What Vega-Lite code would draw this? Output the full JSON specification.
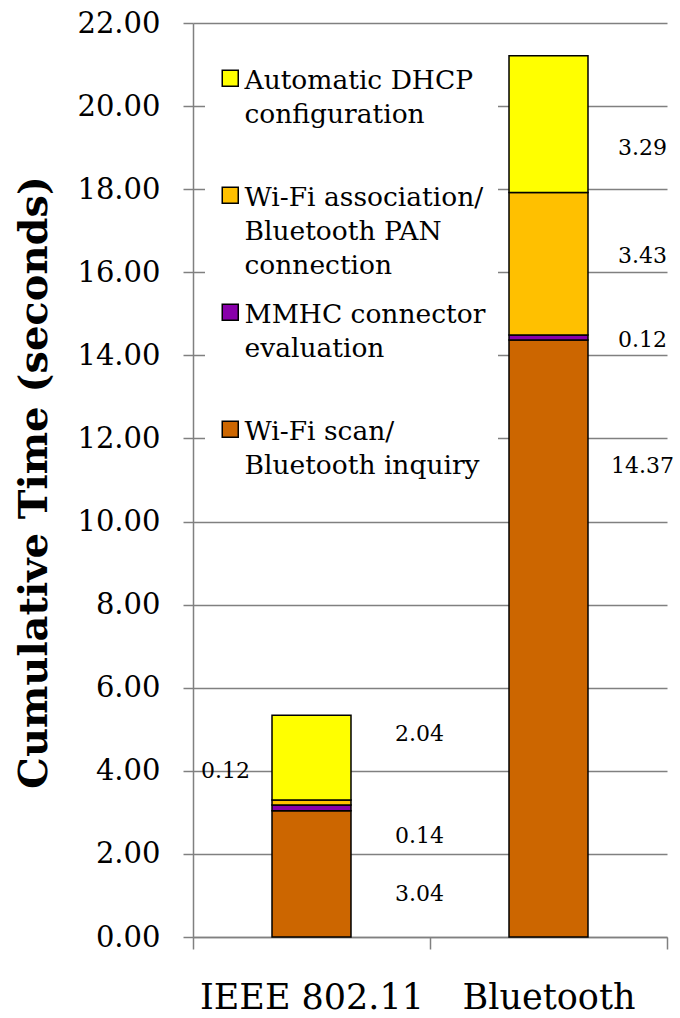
{
  "$schema": "https://vega.github.io/schema/vega-lite/v6.json",
  "width": 474,
  "height": 914,
  "autosize": "none",
  "padding": {"left": 193, "top": 23, "right": 13, "bottom": 81},
  "background": "white",
  "config": {"view": {"stroke": null}, "font": "DejaVu Serif"},
  "data": {
    "values": [
      {"system": "IEEE 802.11", "phase": "Wi-Fi scan/Bluetooth inquiry", "seconds": 3.04, "order": 1, "labelAt": 1.03, "side": "right"},
      {"system": "IEEE 802.11", "phase": "MMHC connector evaluation", "seconds": 0.14, "order": 2, "labelAt": 2.43, "side": "right"},
      {"system": "IEEE 802.11", "phase": "Wi-Fi association/Bluetooth PAN connection", "seconds": 0.12, "order": 3, "labelAt": 4.0, "side": "left"},
      {"system": "IEEE 802.11", "phase": "Automatic DHCP configuration", "seconds": 2.04, "order": 4, "labelAt": 4.88, "side": "right"},
      {"system": "Bluetooth", "phase": "Wi-Fi scan/Bluetooth inquiry", "seconds": 14.37, "order": 1, "labelAt": 11.33, "side": "right"},
      {"system": "Bluetooth", "phase": "MMHC connector evaluation", "seconds": 0.12, "order": 2, "labelAt": 14.37, "side": "right"},
      {"system": "Bluetooth", "phase": "Wi-Fi association/Bluetooth PAN connection", "seconds": 3.43, "order": 3, "labelAt": 16.4, "side": "right"},
      {"system": "Bluetooth", "phase": "Automatic DHCP configuration", "seconds": 3.29, "order": 4, "labelAt": 18.98, "side": "right"}
    ]
  },
  "encoding": {
    "x": {
      "field": "system",
      "type": "nominal",
      "sort": ["IEEE 802.11", "Bluetooth"],
      "scale": {"paddingInner": 0, "paddingOuter": 0},
      "axis": {
        "title": null,
        "labelAngle": 0,
        "labelFont": "DejaVu Serif",
        "labelFontSize": 35,
        "labelColor": "black",
        "labelLimit": 400,
        "labelPadding": 31,
        "tickBand": "extent",
        "tickSize": 12,
        "tickColor": "#808080",
        "tickWidth": 1.5,
        "domainColor": "#808080",
        "domainWidth": 1.5,
        "grid": false
      }
    }
  },
  "layer": [
    {
      "mark": {"type": "bar", "stroke": "black", "strokeWidth": 1.5, "width": {"band": 0.3333}},
      "encoding": {
        "y": {
          "field": "seconds",
          "type": "quantitative",
          "stack": "zero",
          "scale": {"domain": [0, 22], "nice": false},
          "axis": {
            "title": "Cumulative Time (seconds)",
            "titleFont": "DejaVu Serif",
            "titleFontSize": 40,
            "titleFontWeight": "bold",
            "titleColor": "black",
            "titleX": -139,
            "titleY": 459,
            "titleAngle": 270,
            "titleBaseline": "bottom",
            "values": [0, 2, 4, 6, 8, 10, 12, 14, 16, 18, 20, 22],
            "format": ".2f",
            "labelFont": "DejaVu Serif",
            "labelFontSize": 29,
            "labelColor": "black",
            "labelPadding": 23,
            "tickSize": 10,
            "tickColor": "#808080",
            "tickWidth": 1.5,
            "domainColor": "#808080",
            "domainWidth": 1.5,
            "grid": true,
            "gridColor": "#808080",
            "gridWidth": 1.5
          }
        },
        "color": {
          "field": "phase",
          "type": "nominal",
          "scale": {
            "domain": ["Automatic DHCP configuration", "Wi-Fi association/Bluetooth PAN connection", "MMHC connector evaluation", "Wi-Fi scan/Bluetooth inquiry"],
            "range": ["#FFFF00", "#FFC000", "#8800AA", "#CC6600"]
          },
          "legend": {
            "title": null,
            "orient": "none",
            "legendX": 12,
            "legendY": 30,
            "fillColor": "white",
            "padding": 12,
            "symbolType": "square",
            "symbolSize": 256,
            "symbolStrokeColor": "black",
            "symbolStrokeWidth": 1.5,
            "labelFont": "DejaVu Serif",
            "labelFontSize": 26.5,
            "labelColor": "black",
            "labelLimit": 400,
            "labelBaseline": "top",
            "labelOffset": 1,
            "rowPadding": 19,
            "gridAlign": "all",
            "labelExpr": "datum.label == 'Automatic DHCP configuration' ? ['Automatic DHCP', 'configuration'] : datum.label == 'Wi-Fi association/Bluetooth PAN connection' ? ['Wi-Fi association/', 'Bluetooth PAN', 'connection'] : datum.label == 'MMHC connector evaluation' ? ['MMHC connector', 'evaluation'] : ['Wi-Fi scan/', 'Bluetooth inquiry']",
            "encode": {"labels": {"update": {"lineHeight": {"value": 34}, "dy": {"value": -10}}}}
          }
        },
        "order": {"field": "order", "type": "quantitative"}
      }
    },
    {
      "transform": [{"filter": "datum.system == 'IEEE 802.11' && datum.side == 'right'"}],
      "mark": {"type": "text", "fontSize": 22, "font": "DejaVu Serif", "color": "black", "dx": 108, "baseline": "middle"},
      "encoding": {
        "y": {"field": "labelAt", "type": "quantitative"},
        "text": {"field": "seconds", "type": "quantitative", "format": ".2f"}
      }
    },
    {
      "transform": [{"filter": "datum.system == 'IEEE 802.11' && datum.side == 'left'"}],
      "mark": {"type": "text", "fontSize": 22, "font": "DejaVu Serif", "color": "black", "dx": -86, "baseline": "middle"},
      "encoding": {
        "y": {"field": "labelAt", "type": "quantitative"},
        "text": {"field": "seconds", "type": "quantitative", "format": ".2f"}
      }
    },
    {
      "transform": [{"filter": "datum.system == 'Bluetooth'"}],
      "mark": {"type": "text", "fontSize": 22, "font": "DejaVu Serif", "color": "black", "dx": 94, "baseline": "middle"},
      "encoding": {
        "y": {"field": "labelAt", "type": "quantitative"},
        "text": {"field": "seconds", "type": "quantitative", "format": ".2f"}
      }
    }
  ]
}
